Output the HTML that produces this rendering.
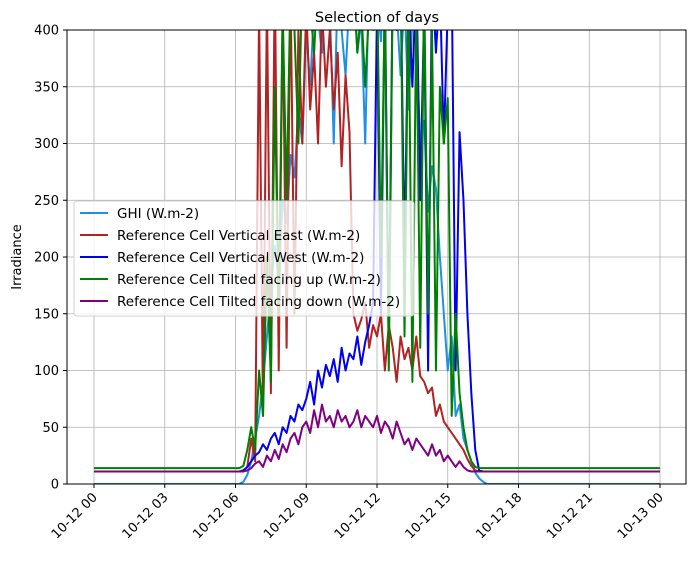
<!DOCTYPE html>
<html><head><meta charset="utf-8"><style>
body{margin:0;background:#fff}
svg text{font-family:"DejaVu Sans","Liberation Sans",sans-serif;fill:#000}
</style></head><body>
<svg id="c" width="695" height="557" xmlns="http://www.w3.org/2000/svg">
<defs><clipPath id="cp"><rect x="67" y="30" width="619" height="454"/></clipPath></defs>
<text x="377" y="22" text-anchor="middle" font-size="14.5">Selection of days</text>
<g id="grid"></g><g id="series" clip-path="url(#cp)"></g><g id="axes"></g>
<text transform="translate(21,257) rotate(-90)" text-anchor="middle" font-size="13">Irradiance</text>
<g id="legend"></g>
</svg>
<script>
const yTicks=[0,50,100,150,200,250,300,350,400];
const xTickHours=[0,3,6,9,12,15,18,21,24];
const xTickLabels=["10-12 00","10-12 03","10-12 06","10-12 09","10-12 12","10-12 15","10-12 18","10-12 21","10-13 00"];
const seriesNames=["GHI (W.m-2)","Reference Cell Vertical East (W.m-2)","Reference Cell Vertical West (W.m-2)","Reference Cell Tilted facing up (W.m-2)","Reference Cell Tilted facing down (W.m-2)"];
const seriesColors=["#1f90e6","#b22222","#0000ee","#008000","#800080"];
const nightValues=[0,11,11,14,11];
// 10-minute samples from 06:00 to 16:50
const ghi=[0,0,2,8,20,40,60,90,130,170,210,180,250,230,290,270,330,300,400,350,420,410,380,450,420,300,440,400,360,430,450,380,410,300,450,420,430,390,460,400,440,420,360,430,330,410,390,300,320,240,280,260,200,150,100,130,60,70,40,30,20,10,5,2,0,0];
const east=[11,11,12,15,40,20,420,60,430,80,450,100,420,120,440,150,400,300,420,330,380,300,420,350,400,330,380,280,360,310,150,135,145,160,120,140,130,150,100,140,120,90,130,110,120,100,130,95,90,80,85,60,70,55,50,45,40,35,30,22,16,12,11,11,11,11];
const west=[11,11,12,15,20,25,28,35,30,40,45,35,50,45,60,55,70,65,75,90,70,100,85,105,95,110,90,120,100,115,110,130,105,125,140,160,420,150,440,120,450,400,450,200,430,350,450,250,420,100,450,380,440,300,420,450,100,310,250,150,80,30,12,11,11,11];
const up=[14,14,16,30,50,30,100,60,200,90,350,150,420,250,440,400,300,450,430,420,380,450,400,420,450,410,430,400,440,420,440,380,420,350,420,400,450,200,430,100,440,420,450,130,440,90,420,120,440,150,400,100,350,300,340,60,150,80,50,30,20,15,14,14,14,14];
const down=[11,11,11,12,14,18,20,15,25,20,30,22,35,28,40,45,35,50,55,45,65,50,70,55,60,50,65,55,60,50,55,65,50,60,55,50,60,45,55,50,40,55,45,35,40,30,40,35,30,25,35,25,30,20,25,20,15,20,15,12,11,11,11,11,11,11];
const allSeries=[ghi,east,west,up,down];
const startHour=6, stepHours=1/6;
const X=h=>94+h*(566/24), Y=v=>484-v*(454/400);
const NS="http://www.w3.org/2000/svg";
function mk(tag,attrs,parent){const e=document.createElementNS(NS,tag);for(const k in attrs)e.setAttribute(k,attrs[k]);parent.appendChild(e);return e;}
const grid=document.getElementById('grid'),axes=document.getElementById('axes'),ser=document.getElementById('series'),leg=document.getElementById('legend');
yTicks.forEach(v=>{
 const g=mk('line',{x1:67,x2:686,y1:Y(v),y2:Y(v),stroke:'#b0b0b0','stroke-width':0.8},grid);
 
 
 mk('line',{x1:63,x2:67,y1:Y(v),y2:Y(v),stroke:'#000'},axes);
 const t=mk('text',{x:59,y:Y(v)+4.5,'text-anchor':'end','font-size':13},axes);t.textContent=v;
 
 
});
xTickHours.forEach((h,i)=>{
 const g=mk('line',{x1:X(h),x2:X(h),y1:30,y2:484,stroke:'#b0b0b0','stroke-width':0.8},grid);
 
 
 mk('line',{x1:X(h),x2:X(h),y1:484,y2:488,stroke:'#000'},axes);
 const t=mk('text',{transform:`translate(${X(h)+4},${498}) rotate(-45)`,'text-anchor':'end','font-size':13},axes);t.textContent=xTickLabels[i];
 
 
});
const fr=mk('rect',{x:67,y:30,width:619,height:454,fill:'none',stroke:'#000','stroke-width':1},axes);


allSeries.forEach((s,si)=>{
 const pts=[[X(0),Y(nightValues[si])]];
 s.forEach((v,i)=>pts.push([X(startHour+i*stepHours),Y(v)]));
 pts.push([X(24),Y(nightValues[si])]);
 const p=mk('polyline',{points:pts.map(p=>p.join(',')).join(' '),fill:'none',stroke:seriesColors[si],'stroke-width':2,'stroke-linejoin':'round'},ser);
 
 
});
const lb=mk('rect',{x:74,y:201,width:340,height:115,rx:3,fill:'#fff','fill-opacity':0.8,stroke:'#d0d0d0'},leg);


seriesNames.forEach((n,i)=>{
 const y=213+i*22;
 const l=mk('line',{x1:80,x2:108,y1:y,y2:y,stroke:seriesColors[i],'stroke-width':2},leg);
 
 
 const t=mk('text',{x:117,y:y+5,'font-size':13.5},leg);t.textContent=n;
 
 
});
</script>
</body></html>
